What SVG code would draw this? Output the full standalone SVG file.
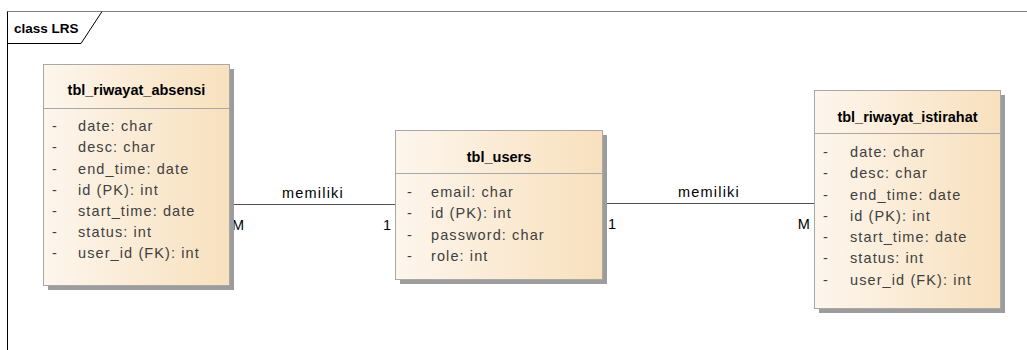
<svg xmlns="http://www.w3.org/2000/svg" width="1027" height="350" viewBox="0 0 1027 350">
  <defs>
    <linearGradient id="classFill" x1="0" y1="0" x2="1" y2="0">
      <stop offset="0" stop-color="#fdf6ed"/>
      <stop offset="1" stop-color="#f8e0bd"/>
    </linearGradient>
    <style>
      .shadow { fill: #9c9c9c; }
      .box { fill: url(#classFill); stroke: #a8a8a8; stroke-width: 1; }
      .divider { stroke: #a8a8a8; stroke-width: 1; }
      .title { font-family: "Liberation Sans", Arial, sans-serif; font-size: 14.5px; font-weight: bold; fill: #000; text-anchor: middle; }
      .attr { font-family: "Liberation Sans", Arial, sans-serif; font-size: 14.5px; fill: #404040; letter-spacing: 1.1px; }
      .label { font-family: "Liberation Sans", Arial, sans-serif; font-size: 14.5px; fill: #000; letter-spacing: 1.2px; }
      .edge { stroke: #505050; stroke-width: 1; fill: none; }
      .frame { font-family: "Liberation Sans", Arial, sans-serif; font-size: 13.5px; font-weight: bold; fill: #000; }
    </style>
  </defs>

  <rect width="1027" height="350" fill="#ffffff"/>

  <!-- diagram frame with its name tab -->
  <g id="frame">
    <line x1="7.5" y1="11.5" x2="1027" y2="11.5" stroke="#808080" stroke-width="1"/>
    <line x1="7.5" y1="11.5" x2="7.5" y2="350" stroke="#000" stroke-width="1"/>
    <polyline points="7.5,43.5 81,43.5 102,11.5" fill="none" stroke="#000" stroke-width="1"/>
    <text class="frame" x="14" y="33">class LRS</text>
  </g>

  <!-- associations -->
  <g id="connectors">
    <line class="edge" x1="229" y1="204.5" x2="395" y2="204.5"/>
    <text class="label" x="313" y="198" text-anchor="middle">memiliki</text>
    <text class="label" x="232" y="230">M</text>
    <text class="label" x="383" y="230">1</text>

    <line class="edge" x1="602" y1="203.5" x2="814" y2="203.5"/>
    <text class="label" x="709" y="197" text-anchor="middle">memiliki</text>
    <text class="label" x="608" y="229">1</text>
    <text class="label" x="811" y="229" text-anchor="end">M</text>
  </g>

  <!-- tbl_riwayat_absensi -->
  <g id="tbl_riwayat_absensi">
    <rect class="shadow" x="48" y="69" width="186" height="221"/>
    <rect class="box" x="43.5" y="64.5" width="186" height="221"/>
    <line class="divider" x1="43.5" y1="108.5" x2="229.5" y2="108.5"/>
    <text class="title" x="136.5" y="95">tbl_riwayat_absensi</text>
    <g class="attr">
      <text x="52" y="131">-</text><text x="78" y="131">date: char</text>
      <text x="52" y="152">-</text><text x="78" y="152">desc: char</text>
      <text x="52" y="174">-</text><text x="78" y="174">end_time: date</text>
      <text x="52" y="195">-</text><text x="78" y="195">id (PK): int</text>
      <text x="52" y="216">-</text><text x="78" y="216">start_time: date</text>
      <text x="52" y="237">-</text><text x="78" y="237">status: int</text>
      <text x="52" y="258">-</text><text x="78" y="258">user_id (FK): int</text>
    </g>
  </g>

  <!-- tbl_users -->
  <g id="tbl_users">
    <rect class="shadow" x="400" y="135" width="207" height="149"/>
    <rect class="box" x="395.5" y="130.5" width="207" height="149"/>
    <line class="divider" x1="395.5" y1="173.5" x2="602.5" y2="173.5"/>
    <text class="title" x="499" y="162">tbl_users</text>
    <g class="attr">
      <text x="407" y="197">-</text><text x="431" y="197">email: char</text>
      <text x="407" y="218">-</text><text x="431" y="218">id (PK): int</text>
      <text x="407" y="240">-</text><text x="431" y="240">password: char</text>
      <text x="407" y="261">-</text><text x="431" y="261">role: int</text>
    </g>
  </g>

  <!-- tbl_riwayat_istirahat -->
  <g id="tbl_riwayat_istirahat">
    <rect class="shadow" x="819" y="95" width="186" height="218"/>
    <rect class="box" x="814.5" y="90.5" width="186" height="218"/>
    <line class="divider" x1="814.5" y1="133.5" x2="1000.5" y2="133.5"/>
    <text class="title" x="907.5" y="122">tbl_riwayat_istirahat</text>
    <g class="attr">
      <text x="823" y="157">-</text><text x="850" y="157">date: char</text>
      <text x="823" y="178">-</text><text x="850" y="178">desc: char</text>
      <text x="823" y="200">-</text><text x="850" y="200">end_time: date</text>
      <text x="823" y="221">-</text><text x="850" y="221">id (PK): int</text>
      <text x="823" y="242">-</text><text x="850" y="242">start_time: date</text>
      <text x="823" y="263">-</text><text x="850" y="263">status: int</text>
      <text x="823" y="285">-</text><text x="850" y="285">user_id (FK): int</text>
    </g>
  </g>
</svg>
